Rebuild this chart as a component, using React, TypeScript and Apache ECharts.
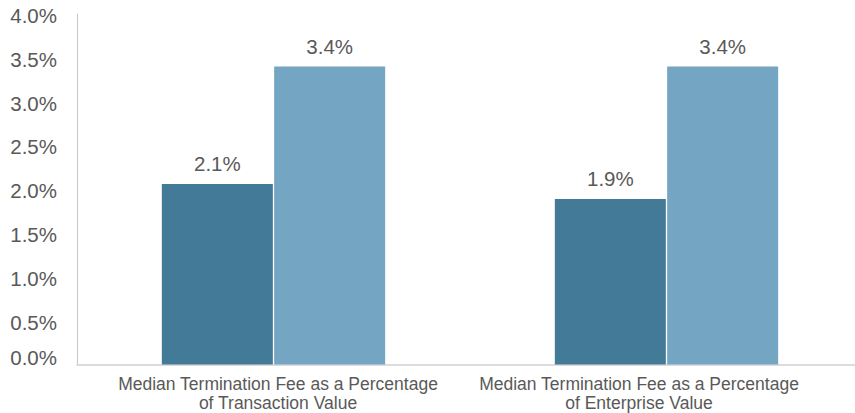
import React, { useEffect, useRef } from "react";
import * as echarts from "echarts";

const categories = [
  "Median Termination Fee as a Percentage\nof Transaction Value",
  "Median Termination Fee as a Percentage\nof Enterprise Value",
];
const seriesDark = [2.06, 1.89];
const seriesLight = [3.4, 3.4];
const yTicks = { min: 0, max: 4, interval: 0.5 };

export default function App() {
  const ref = useRef<HTMLDivElement>(null);
  useEffect(() => {
    if (!ref.current) return;
    document.body.style.margin = "0";
    document.body.style.overflow = "hidden";
    document.documentElement.style.overflow = "hidden";
    const chart = echarts.init(ref.current, undefined, { renderer: "svg" });
    const font = "Liberation Sans, Arial, sans-serif";
    const label = {
      show: true,
      position: "top",
      distance: 10,
      color: "#595959",
      fontSize: 20.5,
      fontFamily: font,
      formatter: (p: any) => p.value.toFixed(1) + "%",
    };
    const tickStyle = { color: "#595959", fontSize: 20.5, fontFamily: font };
    const catStyle = {
      color: "#595959",
      fontSize: 17.5,
      lineHeight: 19,
      fontFamily: font,
    };
    chart.setOption({
      animation: false,
      grid: { left: 77, right: 0, top: 14, bottom: 48.5 },
      xAxis: {
        type: "category",
        data: categories,
        axisLine: { show: true, lineStyle: { color: "#d0d0d0", width: 1.5 } },
        axisTick: { show: false },
        axisLabel: {
          ...catStyle,
          margin: 10,
          interval: 0,
          formatter: (v: string, i: number) =>
            v
              .split("\n")
              .map((l) => "{" + (i === 0 ? "a" : "b") + "|" + l + "}")
              .join("\n"),
          rich: {
            a: { ...catStyle, padding: [0, 0, 0, 9] },
            b: { ...catStyle, padding: [0, 55, 0, 0] },
          },
        },
      },
      yAxis: {
        type: "value",
        min: yTicks.min,
        max: yTicks.max,
        interval: yTicks.interval,
        axisLine: { show: true, lineStyle: { color: "#c8c8c8", width: 1 } },
        axisTick: { show: false },
        splitLine: { show: false },
        axisLabel: {
          ...tickStyle,
          margin: 20,
          formatter: (v: number) =>
            (v === 0 ? "{z|" : "{n|") + v.toFixed(1) + "%}",
          rich: {
            z: { ...tickStyle, padding: [0, 0, 15, 0] },
            n: { ...tickStyle, padding: [3, 0, 0, 0] },
          },
        },
      },
      series: [
        {
          type: "bar",
          data: seriesDark,
          barWidth: 111,
          barGap: "1.2%",
          itemStyle: { color: "#427A97" },
          label,
        },
        {
          type: "bar",
          data: seriesLight,
          barWidth: 111,
          itemStyle: { color: "#74A6C4" },
          label,
        },
      ],
    });
    return () => chart.dispose();
  }, []);
  return <div ref={ref} style={{ width: 863, height: 413 }} />;
}
